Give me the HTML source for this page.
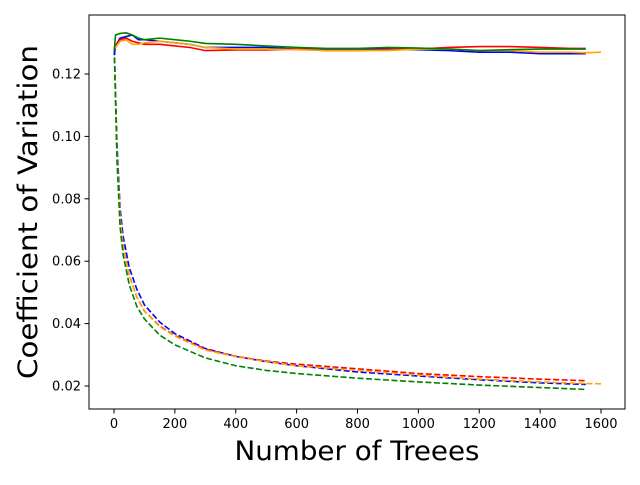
<!DOCTYPE html>
<html><head><meta charset="utf-8"><style>
body{margin:0;background:#fff}
svg text{font-family:"DejaVu Sans","Liberation Sans",sans-serif}
</style></head><body>
<svg id="chart" width="640" height="480" xmlns="http://www.w3.org/2000/svg">
<rect width="640" height="480" fill="#fff"/>
<g id="plot"></g>
<rect x="89" y="15" width="536" height="394" fill="none" stroke="#000" stroke-width="1"/>
<g id="xt"></g><g id="yt"></g>
<text x="357" y="460" font-size="26.7" text-anchor="middle" textLength="245" lengthAdjust="spacingAndGlyphs">Number of Treees</text>
<text transform="translate(37,212) rotate(-90)" font-size="26.7" text-anchor="middle" textLength="334" lengthAdjust="spacingAndGlyphs">Coefficient of Variation</text>
</svg>
<script>
const xTicks=[0,200,400,600,800,1000,1200,1400,1600];
const yTicks=[0.02,0.04,0.06,0.08,0.10,0.12];
const yTickLabels=["0.02","0.04","0.06","0.08","0.10","0.12"];
const solidN=[1,5,20,40,60,80,100,150,200,250,300,400,500,600,700,800,900,1000,1100,1200,1300,1400,1500,1550];
const solidBlue=[0.126,0.129,0.1315,0.132,0.1325,0.131,0.131,0.1305,0.130,0.1295,0.1285,0.1285,0.1285,0.128,0.1278,0.128,0.128,0.1278,0.1275,0.127,0.127,0.1265,0.1265,0.1265];
const solidRed=[0.128,0.129,0.131,0.1315,0.1305,0.130,0.1295,0.1295,0.129,0.1285,0.1275,0.1277,0.1277,0.128,0.1275,0.1275,0.1278,0.128,0.1285,0.1288,0.1288,0.1285,0.1282,0.1282];
const solidOrange=[0.128,0.1285,0.1305,0.131,0.1295,0.1295,0.130,0.1305,0.130,0.1295,0.1285,0.128,0.128,0.1278,0.1275,0.1275,0.1275,0.128,0.128,0.1275,0.1275,0.127,0.127,0.1268];
const solidGreen=[0.1275,0.1325,0.133,0.1332,0.1325,0.1315,0.131,0.1315,0.131,0.1305,0.1298,0.1295,0.129,0.1285,0.1282,0.1282,0.1285,0.1283,0.128,0.1275,0.1278,0.128,0.128,0.128];
const dashN=[1,10,20,30,50,75,100,150,200,300,400,500,600,800,1000,1200,1400,1550];
const dashBlue=[0.128,0.097,0.077,0.068,0.058,0.051,0.046,0.0405,0.0368,0.032,0.0295,0.0278,0.0265,0.0245,0.0232,0.022,0.021,0.0205];
const dashRed=[0.128,0.094,0.074,0.065,0.0555,0.0485,0.044,0.0392,0.0362,0.0318,0.0295,0.028,0.027,0.0255,0.024,0.023,0.0222,0.0217];
const dashOrange=[0.128,0.094,0.074,0.065,0.0555,0.0485,0.044,0.039,0.036,0.0315,0.0294,0.0278,0.0265,0.025,0.0235,0.0222,0.0213,0.0208];
const dashGreen=[0.128,0.092,0.071,0.062,0.0525,0.0455,0.0415,0.0363,0.0332,0.029,0.0265,0.025,0.024,0.0225,0.0213,0.0203,0.0195,0.0189];
const NS="http://www.w3.org/2000/svg";
const xs=v=>114+v*(601-114)/1600;
const ys=v=>74+(0.12-v)*3120;
const plot=document.getElementById('plot');
function line(ns,vs,color,dash,name,extraN,extraV){
  const p=document.createElementNS(NS,'polyline');
  const pts=ns.map((n,i)=>xs(n)+','+ys(vs[i]));
  if(extraN!==undefined)pts.push(xs(extraN)+','+ys(extraV));
  p.setAttribute('points',pts.join(' '));
  p.setAttribute('fill','none');p.setAttribute('stroke',color);p.setAttribute('stroke-width','1.6');
  if(dash)p.setAttribute('stroke-dasharray','6,2.5');
  
  
  plot.appendChild(p);
}
line(dashN,dashBlue,'blue',true,'dashed-blue-series');
line(dashN,dashRed,'red',true,'dashed-red-series');
line(dashN,dashOrange,'orange',true,'dashed-orange-series',1600,0.0207);
line(dashN,dashGreen,'green',true,'dashed-green-series');
line(solidN,solidBlue,'blue',false,'solid-blue-series');
line(solidN,solidRed,'red',false,'solid-red-series');
line(solidN,solidOrange,'orange',false,'solid-orange-series',1600,0.127);
line(solidN,solidGreen,'green',false,'solid-green-series');
const xt=document.getElementById('xt');
xTicks.forEach(v=>{
  const l=document.createElementNS(NS,'line');
  l.setAttribute('x1',xs(v));l.setAttribute('x2',xs(v));l.setAttribute('y1',409);l.setAttribute('y2',413.5);l.setAttribute('stroke','#000');
  
  
  xt.appendChild(l);
  const t=document.createElementNS(NS,'text');
  t.setAttribute('x',xs(v));t.setAttribute('y',428);t.setAttribute('font-size','13');t.setAttribute('text-anchor','middle');
  t.textContent=v;
  
  
  xt.appendChild(t);
});
const yt=document.getElementById('yt');
yTicks.forEach((v,i)=>{
  const l=document.createElementNS(NS,'line');
  l.setAttribute('x1',84.5);l.setAttribute('x2',89);l.setAttribute('y1',ys(v));l.setAttribute('y2',ys(v));l.setAttribute('stroke','#000');
  
  
  yt.appendChild(l);
  const t=document.createElementNS(NS,'text');
  t.setAttribute('x',81);t.setAttribute('y',ys(v)+4.5);t.setAttribute('font-size','13');t.setAttribute('text-anchor','end');
  t.textContent=yTickLabels[i];
  
  
  yt.appendChild(t);
});
</script>
</body></html>
